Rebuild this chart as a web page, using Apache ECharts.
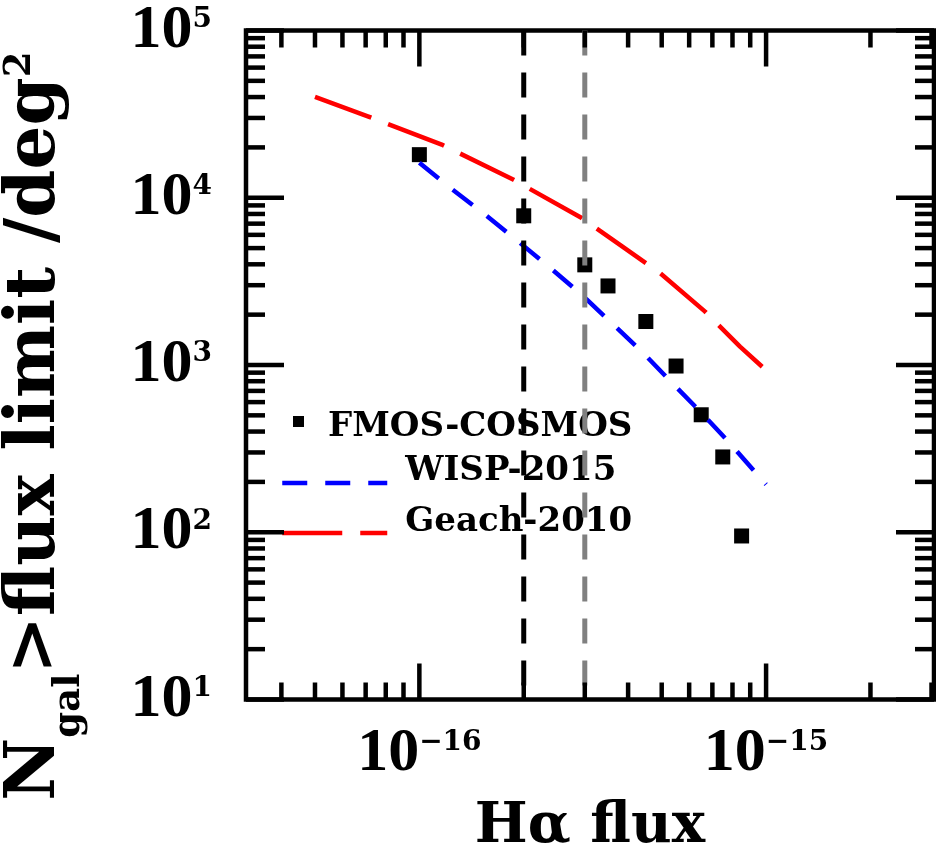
<!DOCTYPE html>
<html><head><meta charset="utf-8">
<script src="https://cdn.jsdelivr.net/npm/echarts@6/dist/echarts.min.js"></script>
<style>html,body{margin:0;padding:0;background:#fff}#c{width:936px;height:846px}</style>
</head><body><div id="c"></div>
<script>
// ---------------- data ----------------
const fmosFlux   = [1.0e-16, 2.0e-16, 3.0e-16, 3.5e-16, 4.5e-16, 5.5e-16, 6.5e-16, 7.5e-16, 8.5e-16];
const fmosCounts = [18100, 7800, 3970, 2970, 1820, 986, 504, 282, 95];

const wispFlux   = [1.0e-16, 1.24e-16, 1.55e-16, 1.93e-16, 2.39e-16, 2.94e-16, 3.63e-16, 4.43e-16, 5.35e-16, 6.53e-16, 7.87e-16, 1.0e-15];
const wispCounts = [16200, 11270, 7910, 5470, 3790, 2630, 1740, 1175, 783, 514, 340, 193];

const geachFlux   = [5.0e-17, 7.1e-17, 1.16e-16, 1.87e-16, 2.94e-16, 3.79e-16, 4.95e-16, 6.67e-16, 8.41e-16, 1.0e-15];
const geachCounts = [40100, 30700, 20800, 12800, 7560, 5230, 3540, 2085, 1288, 930];

const limitFlux = [2e-16, 3e-16];

const seriesNames = ['FMOS-COSMOS', 'WISP-2015', 'Geach-2010'];

const xMajorTicks = [1e-16, 1e-15];
const xMinorTicks = [4e-17, 5e-17, 6e-17, 7e-17, 8e-17, 9e-17,
                     2e-16, 3e-16, 4e-16, 5e-16, 6e-16, 7e-16, 8e-16, 9e-16,
                     2e-15, 3e-15];
const yMajorTicks = [1e1, 1e2, 1e3, 1e4, 1e5];
const yMinorTicks = [2e1, 3e1, 4e1, 5e1, 6e1, 7e1, 8e1, 9e1,
                     2e2, 3e2, 4e2, 5e2, 6e2, 7e2, 8e2, 9e2,
                     2e3, 3e3, 4e3, 5e3, 6e3, 7e3, 8e3, 9e3,
                     2e4, 3e4, 4e4, 5e4, 6e4, 7e4, 8e4, 9e4];
const xTickExponents = [-16, -15];
const yTickExponents = [1, 2, 3, 4, 5];

const X_MIN = 3.16228e-17, X_MAX = 3.05e-15;
const Y_MIN = 10, Y_MAX = 1e5;

// ---------------- helpers ----------------
function zip(a, b) { return a.map((v, i) => [v, b[i]]); }
function expLabel(v, exps) {
  const e = Math.log10(v);
  const r = Math.round(e);
  if (Math.abs(e - r) > 1e-3 || exps.indexOf(r) < 0) return '';
  const s = r < 0 ? '\u2212' + (-r) : String(r);
  return '{b|10}{s|' + s + '}';
}
const labelRich = {
  b: { fontFamily: 'Liberation Serif', fontWeight: 'bold', fontSize: 62, lineHeight: 50, color: '#000' },
  s: { fontFamily: 'DejaVu Serif', fontWeight: 'bold', fontSize: 28, lineHeight: 36, verticalAlign: 'top', color: '#000' }
};
const TICK_W = 4.5, MAJ_X = 36, MIN_X = 17, MAJ_Y = 38, MIN_Y = 19;
const xTickData = xMajorTicks.map(v => [v, Y_MIN, 1]).concat(xMinorTicks.map(v => [v, Y_MIN, 0]));
const yTickData = yMajorTicks.map(v => [X_MIN, v, 1]).concat(yMinorTicks.map(v => [X_MIN, v, 0]));
const limitColors = ['#000000', '#808080'];

const chart = echarts.init(document.getElementById('c'), null, { renderer: 'canvas' });
// boxH: total text box height; tAlign: where the text line sits in that box
function legendCfg(idx, left, top, padLeft, boxH, tAlign) {
  const isLine = idx !== 0;
  return {
    data: [seriesNames[idx]], left: left, top: top, padding: 0, itemGap: 0, selectedMode: false,
    itemWidth: isLine ? 105 : 11, itemHeight: isLine ? 10 : 11,
    icon: isLine ? undefined : 'rect',
    itemStyle: isLine ? { opacity: 0 } : { opacity: 1 },
    lineStyle: isLine ? { width: 4.5 } : undefined,
    formatter: n => '{t|' + n + '}{z| }',
    textStyle: {
      padding: [0, 0, 0, padLeft],
      rich: {
        t: { fontFamily: 'DejaVu Serif', fontWeight: 'bold', fontSize: 34, lineHeight: 40, verticalAlign: tAlign, color: '#000' },
        z: { fontSize: 1, lineHeight: boxH, verticalAlign: 'top' }
      }
    }
  };
}

chart.setOption({
  animation: false,
  backgroundColor: '#fff',
  grid: { left: 246, top: 30.5, right: 2, bottom: 146.5, containLabel: false, outerBoundsMode: 'none',
          show: true, borderColor: '#000', borderWidth: 4.5, backgroundColor: 'transparent' },
  xAxis: {
    type: 'log', min: X_MIN, max: X_MAX, logBase: 10,
    axisLine: { show: false }, axisTick: { show: false }, splitLine: { show: false },
    axisLabel: { margin: 29, formatter: v => expLabel(v, xTickExponents), rich: labelRich,
                 showMinLabel: true, showMaxLabel: true, hideOverlap: false },
    name: 'H\u03b1 flux', nameLocation: 'middle', nameGap: 100, nameMoveOverlap: false,
    nameTextStyle: { fontFamily: 'DejaVu Serif', fontWeight: 'bold', fontSize: 56, lineHeight: 56, color: '#000' }
  },
  yAxis: {
    type: 'log', min: Y_MIN, max: Y_MAX, logBase: 10,
    axisLine: { show: false }, axisTick: { show: false }, splitLine: { show: false },
    axisLabel: { margin: 34, formatter: v => expLabel(v, yTickExponents), rich: labelRich,
                 showMinLabel: true, showMaxLabel: true, hideOverlap: false },
    name: '{m|N}{sub|gal}{m|>flux limit /deg}{sup|2}{z| }',
    nameLocation: 'middle', nameGap: 158, nameRotate: 90, nameMoveOverlap: false,
    nameTextStyle: {
      padding: [0, 122, 0, 0],
      rich: {
        m: { fontFamily: 'DejaVu Serif', fontWeight: 'bold', fontSize: 69, lineHeight: 72, verticalAlign: 'top', color: '#000' },
        sub: { fontFamily: 'DejaVu Serif', fontWeight: 'bold', fontSize: 37, lineHeight: 26, verticalAlign: 'bottom', color: '#000' },
        sup: { fontFamily: 'DejaVu Serif', fontWeight: 'bold', fontSize: 37, lineHeight: 34, verticalAlign: 'top', color: '#000' },
        z: { fontSize: 1, lineHeight: 86, verticalAlign: 'top' }
      }
    }
  },
  legend: [
    legendCfg(0, 293, 399, 19, 45, 'bottom'),
    legendCfg(1, 280, 454, 13, 58, 'top'),
    legendCfg(2, 280, 505, 13, 56, 'top')
  ],
  series: [
    { name: seriesNames[0], type: 'scatter', data: zip(fmosFlux, fmosCounts), symbol: 'rect', symbolSize: 15,
      itemStyle: { color: '#000', opacity: 1 }, z: 2 },
    { name: seriesNames[1], type: 'line', data: zip(wispFlux, wispCounts), symbol: 'none', showSymbol: false,
      lineStyle: { color: '#0000ff', width: 4.5, type: [25, 18], cap: 'butt' }, itemStyle: { color: '#0000ff' }, z: 3 },
    { name: seriesNames[2], type: 'line', data: zip(geachFlux, geachCounts), symbol: 'none', showSymbol: false,
      lineStyle: { color: '#ff0000', width: 4.5, type: [60, 18], cap: 'butt' }, itemStyle: { color: '#ff0000' }, z: 3 },
    { name: 'limits', type: 'custom', silent: true, z: 4, data: limitFlux.map((v, i) => [v, Y_MIN, i]),
      renderItem(params, api) {
        const cs = params.coordSys;
        const px = api.coord([api.value(0), Y_MIN])[0];
        return { type: 'line', shape: { x1: px, y1: cs.y, x2: px, y2: cs.y + cs.height },
                 style: { stroke: limitColors[api.value(2)], lineWidth: 5, lineDash: [25, 17] } };
      } },
    { name: 'xticks', type: 'custom', silent: true, z: 5, data: xTickData,
      renderItem(params, api) {
        const cs = params.coordSys;
        const px = api.coord([api.value(0), Y_MIN])[0];
        const len = api.value(2) ? MAJ_X : MIN_X;
        const st = { stroke: '#000', lineWidth: TICK_W };
        return { type: 'group', children: [
          { type: 'line', shape: { x1: px, y1: cs.y + cs.height, x2: px, y2: cs.y + cs.height - len }, style: st },
          { type: 'line', shape: { x1: px, y1: cs.y, x2: px, y2: cs.y + len }, style: st }
        ] };
      } },
    { name: 'yticks', type: 'custom', silent: true, z: 5, data: yTickData,
      renderItem(params, api) {
        const cs = params.coordSys;
        const py = api.coord([X_MIN, api.value(1)])[1];
        const len = api.value(2) ? MAJ_Y : MIN_Y;
        const st = { stroke: '#000', lineWidth: TICK_W };
        return { type: 'group', children: [
          { type: 'line', shape: { x1: cs.x, y1: py, x2: cs.x + len, y2: py }, style: st },
          { type: 'line', shape: { x1: cs.x + cs.width, y1: py, x2: cs.x + cs.width - len, y2: py }, style: st }
        ] };
      } }
  ]
});
</script></body></html>
